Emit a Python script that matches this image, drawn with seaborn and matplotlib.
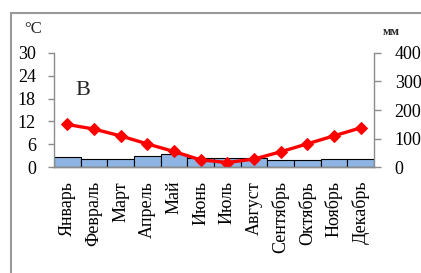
import numpy as np
import pandas as pd
import matplotlib
matplotlib.use("Agg")
import matplotlib.pyplot as plt
import seaborn as sns
from matplotlib.patches import Rectangle

# monthly climate data
months = ["Январь", "Февраль", "Март", "Апрель", "Май", "Июнь",
          "Июль", "Август", "Сентябрь", "Октябрь", "Ноябрь", "Декабрь"]
temp_c = [11.2, 10.0, 8.2, 6.1, 4.1, 1.9, 1.2, 2.1, 4.0, 6.1, 8.2, 10.3]
precip_mm = [35, 28, 28, 40, 46, 32, 32, 32, 25, 25, 30, 30]
temp_ticks = [0, 6, 12, 18, 24, 30]
precip_ticks = [0, 100, 200, 300, 400]

sns.set_style("ticks")
plt.rcParams['font.family'] = ['Liberation Serif', 'DejaVu Serif']

df = pd.DataFrame({"month": months, "temp": temp_c, "precip": precip_mm,
                   "pos": np.arange(len(months))})

grey = "#8c8c8c"
fig = plt.figure(figsize=(4.21, 2.73), dpi=100)
ax = fig.add_axes([0.128, 0.388, 0.760, 0.418])
ax2 = ax.twinx()

# precipitation bars on the right axis
sns.barplot(data=df, x="pos", y="precip", color="#8db4e2", width=1.0,
            edgecolor="black", linewidth=0.8, saturation=1, ax=ax2, native_scale=True)
# temperature line on the left axis
sns.lineplot(data=df, x="pos", y="temp", color="#ff0000", linewidth=2.4,
             marker="D", markersize=6, markeredgecolor="#ff0000", ax=ax)

ax.set_zorder(ax2.get_zorder() + 1)
ax.patch.set_visible(False)

for a in (ax, ax2):
    a.set_xlim(-0.5, 11.5)
    a.set_xlabel("")
    a.set_ylabel("")
    for s in a.spines.values():
        s.set_color(grey)
        s.set_linewidth(1.0)
    a.spines["top"].set_visible(False)

ax.set_ylim(0, 30)
ax.set_yticks(temp_ticks)
ax.tick_params(axis="y", colors=grey, length=4, width=1, pad=9, labelsize=13,
               labelcolor="black")
ax2.set_ylim(0, 400)
ax2.set_yticks(precip_ticks)
ax2.tick_params(axis="y", colors=grey, length=5, width=1, pad=10, labelsize=13,
                labelcolor="black")
ax2.spines["left"].set_visible(False)
ax.spines["right"].set_visible(False)

# month boundaries as ticks, names in the middle
ax.set_xticks(np.arange(-0.5, 12, 1))
ax.set_xticklabels([])
ax.set_xticks(df["pos"], minor=True)
ax.set_xticklabels(months, minor=True, rotation=90, fontsize=13)
ax.tick_params(axis="x", which="major", colors=grey, length=5, width=1)
ax.tick_params(axis="x", which="minor", length=0, pad=10, labelcolor="black")
ax2.set_xticks([])

ax.text(0.09, 0.675, "В", transform=ax.transAxes, fontsize=16,
        ha="center", va="center")
fig.text(33 / 421, 1 - 29 / 273, "°C", fontsize=12, ha="center", va="center")
fig.text(391 / 421, 1 - 32 / 273, "мм", fontsize=9, fontweight="bold",
         ha="center", va="center")

# frame around the picture
fig.patches.append(Rectangle((11 / 421, -0.1), 1.2, 1 - 13 / 273 + 0.1,
                             transform=fig.transFigure, fill=False,
                             edgecolor="#999999", linewidth=1.5))

fig.savefig("out.png", dpi=100)
